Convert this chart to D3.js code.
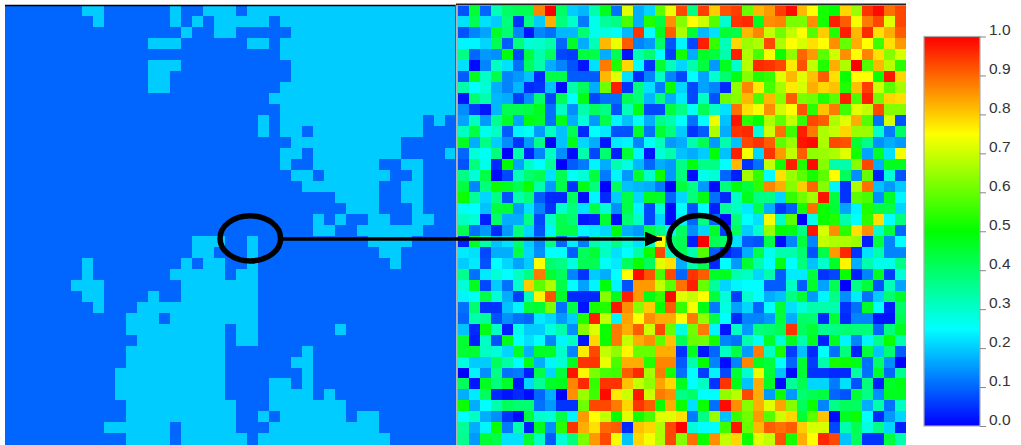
<!DOCTYPE html>
<meta charset="utf-8">
<style>
    html, body {
        margin: 0;
        background: #fff;
    }
    svg {
        display: block;
    }
    .cells rect {
        shape-rendering: crispEdges;
    }
    .key .tick text {
        font: 15.5px "Liberation Sans", sans-serif;
        fill: #333;
    }
    .key .tick line {
        stroke: #888;
    }
</style>
<body>
<script src="https://d3js.org/d3.v7.min.js"></script>
<script>

    var colorTicks = [0, 0.1, 0.2, 0.3, 0.4, 0.5, 0.6, 0.7, 0.8, 0.9, 1];
    var colorStops = [0, 0.25, 0.5, 0.75, 1];
    var colorNames = ["#0000ff", "#00ffff", "#00ff00", "#ffff00", "#ff0000"];

    // left map only has two levels: each row lists the column ranges at mapHigh, the rest is mapLow
    var mapLow = 0.1, mapHigh = 0.2;
    var mapHighRuns = [
        [[7,8],[15,15],[18,20],[22,40]],
        [[8,8],[15,15],[17,17],[19,23],[25,40]],
        [[16,16],[19,20],[26,40]],
        [[13,15],[22,23],[25,40]],
        [[25,40]],
        [[13,15],[26,40]],
        [[13,14],[26,40]],
        [[13,14],[25,40]],
        [[24,40]],
        [[25,40]],
        [[23,23],[25,37],[39,39]],
        [[23,23],[25,26],[28,37]],
        [[26,35]],
        [[25,26],[28,35],[40,40]],
        [[25,25],[28,33],[36,37]],
        [[26,27],[29,34],[37,37]],
        [[27,33],[36,37]],
        [[30,33],[36,37]],
        [[31,33],[37,37]],
        [[28,28],[30,30],[33,34],[37,38]],
        [[28,29],[32,37]],
        [[17,19],[22,22],[33,36]],
        [[17,18],[22,22],[34,35]],
        [[7,7],[16,16],[18,19],[22,22],[35,35]],
        [[7,7],[15,19],[21,22]],
        [[6,8],[16,22]],
        [[7,8],[13,13],[16,22]],
        [[8,8],[12,22]],
        [[11,13],[15,22]],
        [[11,19],[21,22],[30,30]],
        [[12,19],[21,22]],
        [[11,19],[27,27]],
        [[11,19],[26,27]],
        [[10,19],[27,27]],
        [[10,19],[24,25],[27,27]],
        [[10,19],[24,27],[29,29]],
        [[11,20],[24,30]],
        [[11,20],[23,23],[25,30],[32,33]],
        [[9,14],[16,20],[24,33]],
        [[11,14],[16,21],[23,34]]
    ];

    // right map in percent
    var noiseRows = [
        [8,45,10,32,40,42,42,87,100,40,20,18,33,47,11,72,17,21,59,73,93,37,94,80,92,94,60,82,85,94,99,82,75,52,50,79,65,95,99,89,93],
        [22,42,22,20,38,5,37,20,83,38,30,12,27,35,37,57,17,53,44,86,63,75,70,58,30,95,96,47,86,87,62,62,86,52,97,91,74,88,93,72,93],
        [8,13,16,46,39,13,2,13,11,18,18,39,27,28,26,18,95,25,47,91,67,45,18,22,45,43,82,87,69,61,69,75,58,80,53,97,82,96,78,83,91],
        [24,24,21,42,9,38,29,30,33,10,46,17,32,82,73,91,13,15,40,8,24,7,97,55,32,79,65,67,93,67,75,71,78,75,86,60,83,75,56,78,85],
        [37,10,15,14,49,7,44,33,41,7,6,44,43,17,42,2,33,39,25,6,52,17,46,44,33,97,67,57,74,51,64,90,85,59,70,86,75,87,78,63,71],
        [22,1,13,31,22,11,41,33,17,13,8,2,22,88,53,79,25,5,45,32,21,33,44,15,47,30,68,96,95,93,77,92,69,53,83,67,100,58,82,68,54],
        [9,47,31,43,13,15,19,4,43,43,9,9,9,82,72,22,4,13,31,13,7,25,16,30,39,48,63,53,55,72,82,72,81,91,78,51,75,75,51,98,79],
        [33,25,29,17,13,18,4,5,19,1,33,41,17,61,97,5,38,22,12,51,21,7,16,13,4,64,87,77,57,66,77,71,83,79,81,53,81,94,70,59,66],
        [2,39,33,18,17,6,14,39,7,42,25,48,7,11,11,42,38,18,38,17,23,7,31,8,61,63,82,57,82,63,91,62,61,53,59,97,57,97,61,79,78],
        [14,6,2,18,42,42,43,47,11,31,14,33,41,37,8,32,48,7,7,44,37,26,42,31,22,89,78,74,86,70,75,92,54,81,88,56,72,69,93,63,63],
        [16,31,15,36,46,16,49,46,11,48,17,29,15,43,24,19,26,17,37,33,25,11,25,73,19,98,54,50,67,59,69,55,93,91,67,72,83,58,11,71,8],
        [31,43,27,31,9,24,26,15,31,19,42,4,25,23,8,8,46,11,45,38,20,5,9,67,17,95,96,29,70,89,56,97,88,67,69,79,65,65,30,12,40],
        [47,17,37,20,14,5,15,37,0,19,48,21,17,2,23,24,13,26,32,15,17,33,42,15,33,19,93,95,91,59,65,98,99,67,93,92,45,37,14,17,15],
        [10,29,26,38,0,33,3,13,31,14,1,33,7,39,3,45,24,2,29,33,19,17,20,49,19,97,74,21,95,85,69,91,64,65,67,72,52,16,46,22,74],
        [8,38,27,4,50,16,31,25,35,0,9,12,24,17,33,28,18,10,17,15,37,49,37,37,25,82,5,11,69,52,97,53,99,63,33,33,63,93,17,47,47],
        [37,29,43,1,7,32,39,42,22,42,26,29,44,12,24,15,45,30,51,15,38,1,27,29,10,3,66,55,25,78,65,59,52,59,75,41,14,60,3,29,8],
        [44,13,38,51,47,42,51,33,15,43,5,48,38,0,41,19,18,17,12,0,44,37,15,1,38,49,44,54,87,83,63,80,90,63,24,5,67,89,19,15,20],
        [51,35,21,37,8,33,38,9,4,4,41,1,24,4,20,43,21,47,46,10,21,38,48,11,4,31,47,37,37,21,55,61,66,98,44,5,59,57,14,46,24],
        [26,25,19,44,45,15,22,13,5,30,38,22,43,29,14,43,24,7,29,1,25,8,25,3,35,31,23,43,17,5,9,52,89,51,45,16,24,53,43,43,21],
        [31,29,3,40,17,17,37,7,31,42,39,2,3,45,1,39,31,7,21,1,24,10,37,10,1,38,25,22,74,31,59,0,27,51,53,33,25,54,78,25,38],
        [42,11,15,4,15,38,21,8,24,43,43,24,23,21,49,17,15,43,37,24,40,14,21,46,6,41,20,30,65,50,48,37,98,71,86,54,78,86,30,44,10],
        [3,46,33,19,22,39,20,13,37,10,23,12,33,30,37,29,22,31,75,39,42,3,100,42,40,22,9,8,43,1,13,44,13,69,67,67,65,3,44,13,25],
        [23,22,7,17,17,43,21,14,25,25,9,41,45,31,22,25,34,51,93,31,42,33,58,9,3,6,17,43,27,33,33,39,8,43,85,96,5,22,33,13,13],
        [20,23,8,25,21,16,20,75,39,37,28,42,42,26,23,41,51,41,72,78,17,33,42,4,25,15,45,33,25,48,25,38,19,30,46,76,17,33,27,27,37],
        [36,11,23,29,25,31,37,88,45,41,13,5,20,17,25,75,99,92,57,93,10,95,91,46,47,33,31,21,33,9,23,23,44,5,7,51,3,13,47,6,29],
        [29,47,7,20,11,30,80,59,67,43,25,16,24,49,24,8,85,85,69,59,89,97,60,35,21,24,25,25,9,9,31,9,46,16,42,0,37,44,8,32,16],
        [24,26,43,29,17,6,32,76,92,46,4,4,4,63,47,97,85,48,55,99,72,69,75,44,29,6,30,25,17,19,37,45,15,24,37,14,23,11,20,39,46],
        [11,39,5,5,19,24,44,45,62,11,43,2,52,53,98,86,63,80,51,91,55,74,48,12,28,16,21,10,25,45,22,29,33,33,33,5,11,46,25,3,40],
        [10,33,35,8,14,11,10,23,21,15,20,53,97,69,24,84,75,86,83,83,75,88,64,43,25,4,13,13,15,44,17,40,39,4,45,4,13,13,2,2,42],
        [19,4,48,31,3,27,20,20,28,33,14,63,72,51,88,83,91,70,93,60,28,61,88,24,2,31,15,38,39,42,95,41,45,36,37,39,38,38,10,38,47],
        [45,3,31,8,48,25,22,25,13,24,31,2,79,51,88,69,83,86,59,81,42,60,61,52,13,11,33,26,46,29,47,33,47,3,47,24,13,24,37,51,33],
        [45,45,31,29,21,46,17,46,46,30,13,77,93,69,64,76,60,60,83,83,5,47,2,10,31,43,15,88,31,52,6,19,4,25,11,38,3,44,19,39,9],
        [28,20,20,41,34,25,48,17,24,29,47,95,95,73,57,83,83,53,87,87,9,33,50,13,1,13,87,47,44,25,10,45,6,33,52,51,48,11,40,14,0],
        [0,24,14,37,11,12,3,43,21,44,98,76,62,57,56,91,96,66,88,52,11,25,6,24,7,45,30,73,45,19,1,45,5,5,4,4,34,11,46,10,36],
        [41,2,47,38,46,2,21,35,46,47,87,96,55,95,95,81,69,64,84,79,47,25,31,5,95,48,19,83,46,1,35,42,21,21,12,22,8,38,3,46,48],
        [17,23,41,4,2,4,1,10,17,0,86,65,56,99,77,70,98,70,88,86,37,40,25,25,64,68,93,83,15,51,15,39,42,44,10,8,45,37,14,47,47],
        [51,17,25,33,41,39,39,11,15,5,5,61,93,93,88,79,95,91,51,83,51,22,51,11,99,86,63,83,72,84,63,41,51,13,37,41,41,17,33,11,31],
        [25,31,17,14,5,1,44,30,29,43,24,85,75,69,51,72,52,57,72,72,78,12,37,65,19,55,61,85,58,70,79,45,59,81,1,47,51,25,4,15,21],
        [35,17,24,51,12,33,3,47,14,54,95,83,78,90,91,4,81,79,67,93,100,29,25,25,56,98,60,82,91,89,91,80,71,71,7,33,42,28,37,21,3],
        [36,15,45,43,22,22,45,31,9,29,38,62,85,93,74,19,79,74,67,93,63,89,51,86,69,79,51,72,69,92,52,83,75,96,93,19,41,5,5,44,33]
    ];

    var width = 1021,
        height = 445;

    var nCols = 41, nRows = 40;

    var rowIndex = d3.range(nRows),
        colIndex = d3.range(nCols);

    var color = d3.scaleLinear()
        .domain(colorStops)
        .range(colorNames);

    var y = d3.scaleBand()
        .domain(rowIndex)
        .range([5.5, 444.3]);

    var xMap = d3.scaleBand()
        .domain(colIndex)
        .range([5, 456]);

    var xNoise = d3.scaleBand()
        .domain(colIndex)
        .range([458, 905.7]);

    var svg = d3.select("body").append("svg")
        .attr("width", width)
        .attr("height", height);

    var defs = svg.append("defs");

    defs.append("marker")
        .attr("id", "head")
        .attr("markerUnits", "userSpaceOnUse")
        .attr("viewBox", "0 0 17 15")
        .attr("refX", 17)
        .attr("refY", 7.5)
        .attr("markerWidth", 17)
        .attr("markerHeight", 15)
        .attr("orient", "auto")
        .append("path")
        .attr("d", "M0,0L17,7.5L0,15Z")
        .attr("fill", "#000");

    var mapCells = [];
    rowIndex.forEach(function(r) {
        var values = colIndex.map(function() { return mapLow; });
        mapHighRuns[r].forEach(function(run) {
            d3.range(run[0], run[1] + 1).forEach(function(c) { values[c] = mapHigh; });
        });
        values.forEach(function(v, c) { mapCells.push({row: r, col: c, value: v}); });
    });

    var noiseCells = [];
    noiseRows.forEach(function(values, r) {
        values.forEach(function(v, c) { noiseCells.push({row: r, col: c, value: v / 100}); });
    });

    function drawCells(cells, x) {
        svg.append("g")
            .attr("class", "cells")
            .selectAll("rect")
            .data(cells)
            .enter().append("rect")
            .attr("x", function(d) { return x(d.col); })
            .attr("y", function(d) { return y(d.row); })
            .attr("width", x.bandwidth() + 0.3)
            .attr("height", y.bandwidth() + 0.3)
            .attr("fill", function(d) { return color(d.value); });
    }

    drawCells(mapCells, xMap);
    drawCells(noiseCells, xNoise);

    // frame lines along the panels
    svg.append("path").attr("d", "M5,5.5H456").attr("stroke", "#000").attr("stroke-width", 1.6);
    svg.append("path").attr("d", "M456,4.5H906").attr("stroke", "#222").attr("stroke-width", 2);
    svg.append("path").attr("d", "M455.7,5V445").attr("stroke", "#555").attr("stroke-width", 1.4);
    svg.append("path").attr("d", "M457.3,5V445").attr("stroke", "#aaa").attr("stroke-width", 1.4);

    // colour key
    var keyScale = d3.scaleLinear()
        .domain([0, 1])
        .range([426, 36.5]);

    var gradient = defs.append("linearGradient")
        .attr("id", "ramp")
        .attr("x1", 0).attr("x2", 0)
        .attr("y1", 1).attr("y2", 0);

    gradient.selectAll("stop")
        .data(colorStops)
        .enter().append("stop")
        .attr("offset", function(d) { return d; })
        .attr("stop-color", function(d) { return color(d); });

    var key = svg.append("g")
        .attr("class", "key")
        .attr("transform", "translate(980,0)");

    key.append("rect")
        .attr("x", -56)
        .attr("y", keyScale(1))
        .attr("width", 56)
        .attr("height", keyScale(0) - keyScale(1))
        .attr("fill", "url(#ramp)")
        .attr("stroke", "#aaa")
        .attr("stroke-width", 1.2);

    key.call(d3.axisRight(keyScale)
            .tickValues(colorTicks)
            .tickFormat(d3.format(".1f"))
            .tickSize(6)
            .tickPadding(3))
        .call(function(g) { g.select(".domain").remove(); })
        .call(function(g) { g.selectAll(".tick text").attr("dy", "-0.1em"); });

    // annotation: circles and the arrow between them
    var marks = svg.append("g").attr("fill", "none").attr("stroke", "#000");

    marks.append("ellipse")
        .attr("cx", 250.3).attr("cy", 238.4)
        .attr("rx", 30.3).attr("ry", 22.6)
        .attr("stroke-width", 5.5);

    marks.append("ellipse")
        .attr("cx", 699.4).attr("cy", 238.2)
        .attr("rx", 30.5).attr("ry", 22.6)
        .attr("stroke-width", 5.5);

    marks.append("line")
        .attr("x1", 283).attr("y1", 239)
        .attr("x2", 662).attr("y2", 239)
        .attr("stroke-width", 3.6)
        .attr("marker-end", "url(#head)");

</script>
